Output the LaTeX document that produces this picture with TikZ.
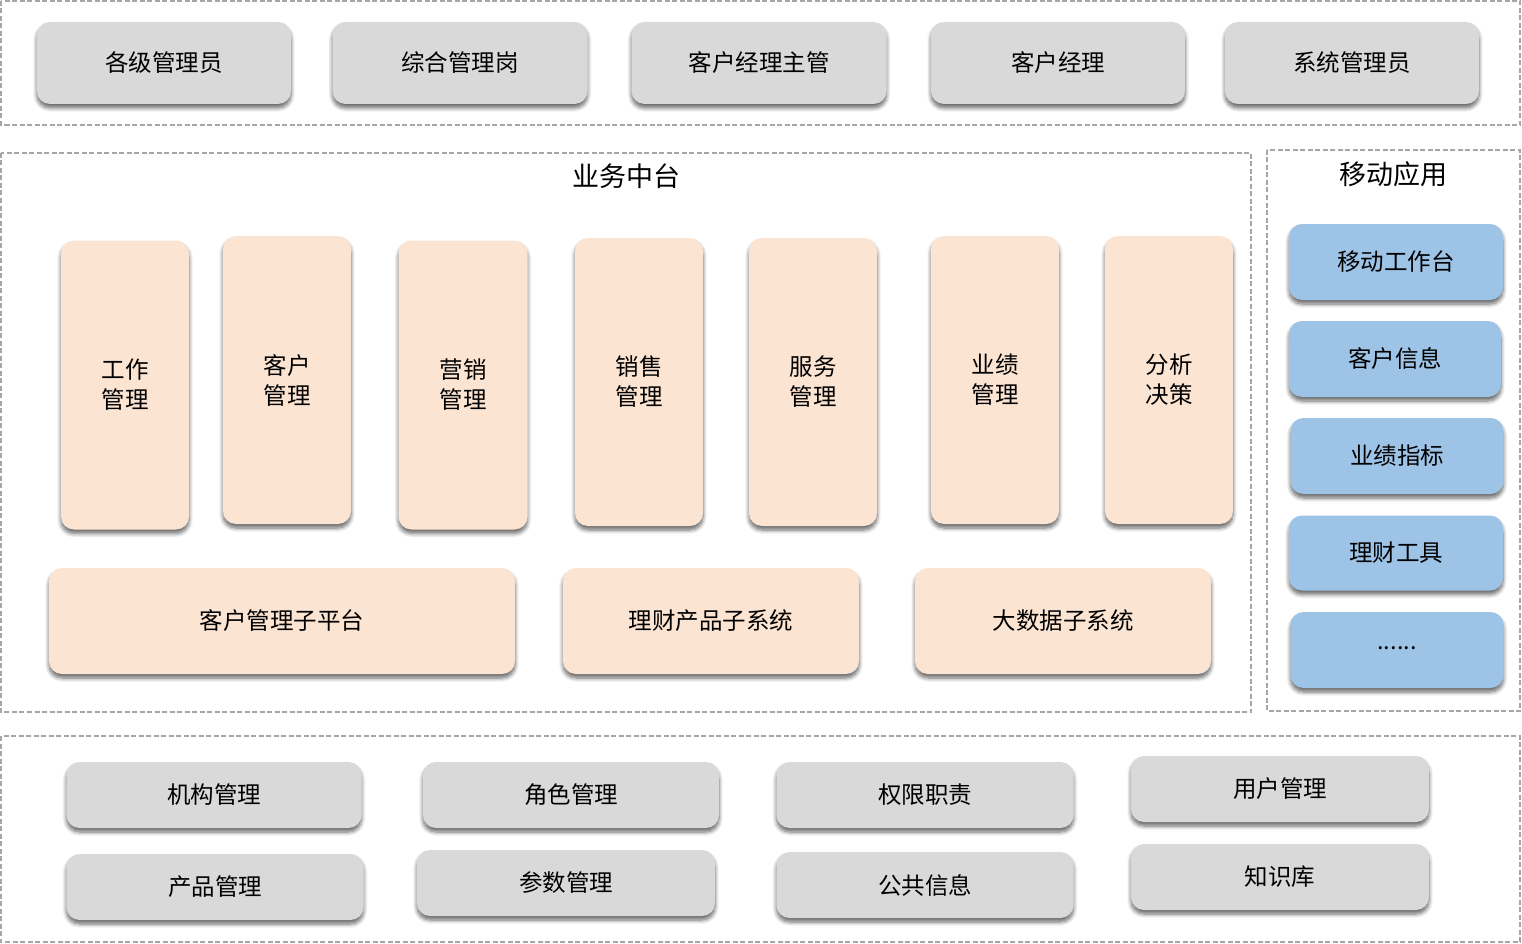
\documentclass[tikz,border=0pt]{standalone}
\usepackage{fontspec}
\setmainfont{Noto Sans CJK SC}
\usetikzlibrary{shadows.blur}
\definecolor{boxgray}{HTML}{D9D9D9}
\definecolor{boxpeach}{HTML}{FCE4D2}
\definecolor{boxblue}{HTML}{9DC3E6}
\definecolor{framegray}{HTML}{A6A6A6}
\tikzset{
  frame/.style={draw=framegray, line width=1.2pt, dash pattern=on 5pt off 2.5pt},
  card/.style={rounded corners=13pt, inner sep=0pt, align=center,
    font=\fontsize{23.5}{30}\selectfont,
    blur shadow={shadow xshift=0pt, shadow yshift=-4pt, shadow blur radius=4pt,
      shadow blur steps=6, shadow opacity=60}},
  graycard/.style={card, fill=boxgray},
  peachcard/.style={card, fill=boxpeach},
  bluecard/.style={card, fill=boxblue},
  heading/.style={font=\fontsize{27}{32}\selectfont},
}
\begin{document}
\begin{tikzpicture}[x=1pt, y=-1pt]
\useasboundingbox (0,0) rectangle (1522,944);
  % frames
  \draw[frame] (1,1) rectangle (1520,125);
  \draw[frame] (1,153) rectangle (1251,712);
  \draw[frame] (1267,150) rectangle (1520,711);
  \draw[frame] (1,736) rectangle (1520,942);

  % roles
  \node[graycard, minimum width=254pt, minimum height=82pt] (r1) at (164,63) {各级管理员};
  \node[graycard, minimum width=255pt, minimum height=82pt] (r2) at (460,63) {综合管理岗};
  \node[graycard, minimum width=255pt, minimum height=82pt] (r3) at (759,63) {客户经理主管};
  \node[graycard, minimum width=254pt, minimum height=82pt] (r4) at (1058,63) {客户经理};
  \node[graycard, minimum width=254pt, minimum height=82pt] (r5) at (1352,63) {系统管理员};

  % business platform
  \node[heading] (bt) at (626,176) {业务中台};
  \node[peachcard, minimum width=128pt, minimum height=289pt] (b1) at (125,385) {工作\\管理};
  \node[peachcard, minimum width=128pt, minimum height=288pt] (b2) at (287,380) {客户\\管理};
  \node[peachcard, minimum width=129pt, minimum height=289pt] (b3) at (463,385) {营销\\管理};
  \node[peachcard, minimum width=128pt, minimum height=288pt] (b4) at (639,382) {销售\\管理};
  \node[peachcard, minimum width=128pt, minimum height=288pt] (b5) at (813,382) {服务\\管理};
  \node[peachcard, minimum width=128pt, minimum height=288pt] (b6) at (995,380) {业绩\\管理};
  \node[peachcard, minimum width=128pt, minimum height=288pt] (b7) at (1169,380) {分析\\决策};
  \node[peachcard, minimum width=466pt, minimum height=106pt] (s1) at (282,621) {客户管理子平台};
  \node[peachcard, minimum width=296pt, minimum height=106pt] (s2) at (711,621) {理财产品子系统};
  \node[peachcard, minimum width=296pt, minimum height=106pt] (s3) at (1063,621) {大数据子系统};

  % mobile
  \node[heading] (mt) at (1393,174) {移动应用};
  \node[bluecard, minimum width=214pt, minimum height=76pt] (m1) at (1396,262) {移动工作台};
  \node[bluecard, minimum width=212pt, minimum height=76pt] (m2) at (1395,359) {客户信息};
  \node[bluecard, minimum width=213pt, minimum height=76pt] (m3) at (1397,456) {业绩指标};
  \node[bluecard, minimum width=214pt, minimum height=75pt] (m4) at (1396,553) {理财工具};
  \node[bluecard, minimum width=213pt, minimum height=76pt] (m5) at (1397,650) {\raisebox{4pt}{......}};

  % base services
  \node[graycard, minimum width=295pt, minimum height=66pt] (f1) at (214,795) {机构管理};
  \node[graycard, minimum width=297pt, minimum height=66pt] (f2) at (215,887) {产品管理};
  \node[graycard, minimum width=296pt, minimum height=66pt] (f3) at (571,795) {角色管理};
  \node[graycard, minimum width=298pt, minimum height=66pt] (f4) at (566,883) {参数管理};
  \node[graycard, minimum width=297pt, minimum height=66pt] (f5) at (925,795) {权限职责};
  \node[graycard, minimum width=297pt, minimum height=66pt] (f6) at (925,885) {公共信息};
  \node[graycard, minimum width=298pt, minimum height=66pt] (f7) at (1280,789) {用户管理};
  \node[graycard, minimum width=298pt, minimum height=66pt] (f8) at (1280,877) {知识库};
\end{tikzpicture}
\end{document}
